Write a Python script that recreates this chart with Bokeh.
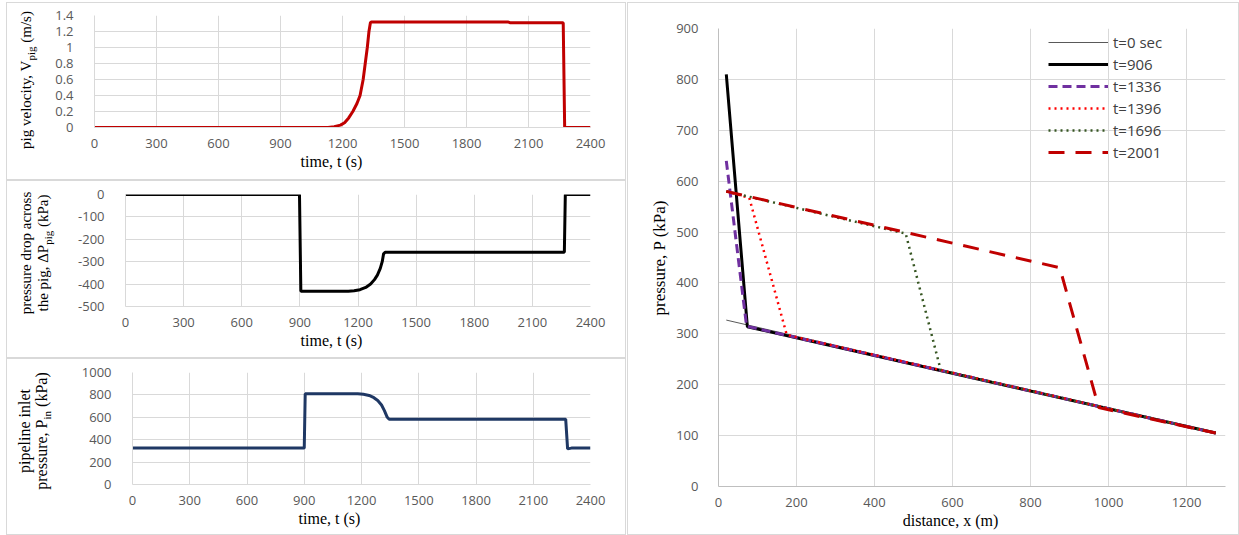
from bokeh.plotting import figure
from bokeh.models import Range1d, FixedTicker, Legend, LegendItem, Title, Spacer, Div
from bokeh.layouts import row, column
from bokeh.embed import file_html
from bokeh.resources import INLINE

# ---- time histories -------------------------------------------------------
vel_t = [0, 1130, 1160, 1190, 1210, 1230, 1250, 1270, 1285, 1300, 1310, 1320,
         1328, 1335, 1340, 2000, 2010, 2268, 2275, 2400]
vel_v = [0, 0, 0.01, 0.03, 0.06, 0.12, 0.2, 0.3, 0.4, 0.6, 0.8, 1.0,
         1.2, 1.31, 1.32, 1.32, 1.31, 1.31, 0, 0]

dp_t = [0, 898, 905, 1150, 1180, 1210, 1240, 1265, 1285, 1300, 1315, 1325,
        1332, 1340, 2265, 2270, 2400]
dp_v = [0, 0, -432, -432, -430, -425, -415, -400, -380, -360, -330, -300,
        -265, -258, -258, 0, 0]

pin_t = [0, 900, 905, 1180, 1210, 1240, 1265, 1285, 1305, 1320, 1335, 1345,
         2270, 2280, 2300, 2400]
pin_v = [325, 325, 810, 810, 805, 795, 775, 750, 710, 660, 600, 583,
         583, 318, 325, 325]

time_ticks = [0, 300, 600, 900, 1200, 1500, 1800, 2100, 2400]
vel_ticks = [0, 0.2, 0.4, 0.6, 0.8, 1.0, 1.2, 1.4]
vel_tick_labels = ["0", "0.2", "0.4", "0.6", "0.8", "1", "1.2", "1.4"]
dp_ticks = [0, -100, -200, -300, -400, -500]
dp_tick_labels = ["0", "-100", "-200", "-300", "-400", "-500"]
pin_ticks = [0, 200, 400, 600, 800, 1000]

# ---- pressure profiles along the line -------------------------------------
profile_labels = ["t=0 sec", "t=906", "t=1336", "t=1396", "t=1696", "t=2001"]
prof_x = [
    [20, 1275],
    [20, 74, 1275],
    [20, 72, 1275],
    [20, 79, 175, 1275],
    [20, 480, 570, 1275],
    [20, 875, 975, 1275],
]
prof_p = [
    [327, 105],
    [810, 314, 105],
    [640, 315, 105],
    [580, 567, 298, 105],
    [580, 497, 228, 105],
    [580, 430, 155, 105],
]
dist_ticks = [0, 200, 400, 600, 800, 1000, 1200]
pres_ticks = [0, 100, 200, 300, 400, 500, 600, 700, 800, 900]

GRID = "#d9d9d9"
TICK_COLOR = "#595959"
SERIF = "Liberation Serif"
SANS = "Open Sans"
PANEL_BORDER = {"border": "1px solid #d9d9d9"}

# Times-like advance widths (per 1000 em), used to centre the x-axis titles
TIMES_W = {
    " ": 250, ",": 250, "(": 333, ")": 333, "a": 444, "c": 444, "d": 500,
    "e": 444, "i": 278, "m": 778, "n": 500, "s": 389, "t": 278, "x": 500,
}


def text_width(s, size):
    return sum(TIMES_W.get(c, 500) for c in s) * size / 1000.0


def sub(s):
    return f'<span style="font-size:11px;position:relative;top:4px">{s}</span>'


def title_div(w, h, cx, cy, lines, size=15, line_height=17):
    """Rotated (bottom-to-top) y-axis title centred on (cx, cy)."""
    inner = (f"position:absolute;left:{cx}px;top:{cy}px;"
             "transform:translate(-50%,-50%) rotate(-90deg);"
             f"white-space:nowrap;text-align:center;font-family:'{SERIF}';"
             f"font-size:{size}px;line-height:{line_height}px;color:black;")
    html = (f'<div style="position:relative;width:{w}px;height:{h}px">'
            f'<div style="{inner}">{"<br>".join(lines)}</div></div>')
    return Div(text=html, width=w, height=h, margin=0)


def make_fig(w, h, xr, yr, left, right, top, bottom, xticks, yticks,
             xlabel, xlabel_centre, ystandoff, axis_color=GRID, xlabel_size=16):
    p = figure(width=w, height=h, x_range=Range1d(*xr), y_range=Range1d(*yr),
               output_backend="svg", toolbar_location=None,
               min_border_left=left, min_border_right=right,
               min_border_top=top, min_border_bottom=bottom)
    p.outline_line_color = None
    p.xaxis.ticker = FixedTicker(ticks=xticks)
    p.yaxis.ticker = FixedTicker(ticks=yticks)
    p.xgrid.ticker = FixedTicker(ticks=xticks)
    p.ygrid.ticker = FixedTicker(ticks=yticks)
    p.grid.grid_line_color = GRID
    p.grid.grid_line_width = 1
    for ax in (p.xaxis, p.yaxis):
        ax.major_tick_line_color = None
        ax.minor_tick_line_color = None
        ax.axis_line_color = axis_color
        ax.major_label_text_font = SANS
        ax.major_label_text_font_size = "13px"
        ax.major_label_text_color = TICK_COLOR
    p.xaxis.major_label_standoff = 5
    p.yaxis.major_label_standoff = ystandoff
    # x-axis title, placed by its centre measured from the frame's left edge
    p.add_layout(Title(text=xlabel, align="left",
                       offset=xlabel_centre - text_width(xlabel, xlabel_size) / 2,
                       text_font=SERIF, text_font_style="normal",
                       text_font_size=f"{xlabel_size}px", text_color="black",
                       standoff=0), "below")
    return p


# ---- pig velocity ---------------------------------------------------------
p1 = make_fig(573, 176, (0, 2400), (0, 1.4), 42, 35, 12, 52,
              time_ticks, vel_ticks, "time, t (s)", 237, 15)
p1.yaxis.major_label_overrides = dict(zip(vel_ticks, vel_tick_labels))
p1.line(vel_t, vel_v, line_color="#c00000", line_width=3)
t1 = title_div(45, 176, 20, 77, [f"pig velocity, V{sub('pig')} (m/s)"])

# ---- pressure drop across the pig -----------------------------------------
p2 = make_fig(563, 176, (0, 2400), (-500, 0), 63, 35, 13, 51,
              time_ticks, dp_ticks, "time, t (s)", 206, 15)
p2.yaxis.major_label_overrides = dict(zip(dp_ticks, dp_tick_labels))
p2.line(dp_t, dp_v, line_color="black", line_width=3)
t2 = title_div(55, 176, 28, 72, ["pressure drop across",
                                 f"the pig, ΔP{sub('pig')} (kPa)"])

# ---- pipeline inlet pressure ----------------------------------------------
p3 = make_fig(563, 175, (0, 2400), (0, 1000), 70, 35, 13, 50,
              time_ticks, pin_ticks, "time, t (s)", 197, 15)
p3.line(pin_t, pin_v, line_color="#1f3864", line_width=3)
t3 = title_div(55, 175, 27, 72, ["pipeline inlet",
                                 f"pressure, P{sub('in')} (kPa)"], size=16)

# ---- pressure profiles ----------------------------------------------------
p4 = make_fig(566, 531, (0, 1300), (0, 900), 46, 13, 25, 48,
              dist_ticks, pres_ticks, "distance, x (m)", 232, 14,
              axis_color="#bfbfbf")
styles = [
    dict(line_color="#595959", line_width=1),
    dict(line_color="black", line_width=3),
    dict(line_color="#7030a0", line_width=3, line_dash="9 5"),
    dict(line_color="#ff0000", line_width=2.5, line_dash="2 4"),
    dict(line_color="#375623", line_width=2.5, line_dash="2 4"),
    dict(line_color="#c00000", line_width=3, line_dash="16 11"),
]
items = []
for lbl, xs, ps, st in zip(profile_labels, prof_x, prof_p, styles):
    r = p4.line(xs, ps, **st)
    items.append(LegendItem(label=lbl, renderers=[r]))
legend = Legend(items=items, location=(330, 324), border_line_color=None,
                background_fill_alpha=0, label_text_font=SANS,
                label_text_font_size="15px", label_text_color="#404040",
                glyph_width=60, glyph_height=20, label_height=20,
                spacing=2, padding=4, margin=0, label_standoff=5)
p4.add_layout(legend)
t4 = title_div(44, 531, 31, 255, ["pressure, P (kPa)"], size=17)

panel1 = row(t1, p1, styles=PANEL_BORDER)
panel2 = row(t2, p2, styles=PANEL_BORDER)
panel3 = row(t3, p3, styles=PANEL_BORDER)
panel4 = row(t4, p4, styles=PANEL_BORDER)

layout = column(Spacer(height=2),
                row(Spacer(width=6), column(panel1, panel2, panel3),
                    Spacer(width=1), panel4))
open("out.html", "w").write(file_html(layout, INLINE))
